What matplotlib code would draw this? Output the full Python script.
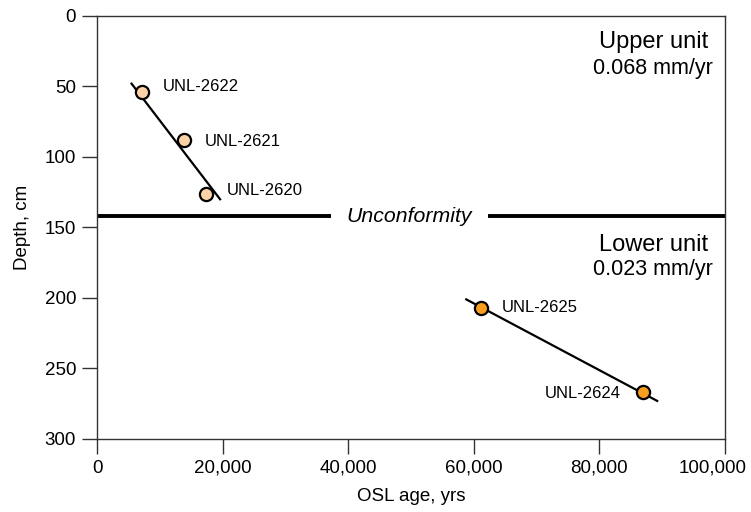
import matplotlib
matplotlib.use("Agg")
import matplotlib.pyplot as plt
import matplotlib.transforms as mtransforms

plt.rcParams['font.family'] = ['Liberation Sans', 'DejaVu Sans']

# --- donnees ---
upper_ids = ["UNL-2622", "UNL-2621", "UNL-2620"]
upper_age = [7100, 13900, 17300]
upper_depth = [54, 88, 126]

lower_ids = ["UNL-2625", "UNL-2624"]
lower_age = [61100, 86900]
lower_depth = [207, 267]

# droites d'ajustement (extremites)
upper_fit_age = [5500, 19600]
upper_fit_depth = [48, 130]
lower_fit_age = [58800, 89200]
lower_fit_depth = [201, 273]

# discordance
unconf_depth = 142
unconf_left = [0, 37200]
unconf_right = [62300, 100000]

x_ticks = [0, 20000, 40000, 60000, 80000, 100000]
y_ticks = [0, 50, 100, 150, 200, 250, 300]

fig = plt.figure(figsize=(7.51, 5.12), dpi=100)
ax = fig.add_axes([0.1292, 0.1426, 0.8362, 0.8262])

# discordance
ax.plot(unconf_left, [unconf_depth] * 2, color='black', lw=2.8, solid_capstyle='butt')
ax.plot(unconf_right, [unconf_depth] * 2, color='black', lw=2.8, solid_capstyle='butt')
ax.text(sum([unconf_left[1], unconf_right[0]]) / 2, unconf_depth, "Unconformity",
        style='italic', fontsize=15.3, ha='center', va='center')

# droites
ax.plot(upper_fit_age, upper_fit_depth, color='black', lw=1.6, zorder=3)
ax.plot(lower_fit_age, lower_fit_depth, color='black', lw=1.6, zorder=3)

# points
ax.plot(upper_age, upper_depth, 'o', ms=9.5, mfc='#FCD3A7', mec='black', mew=1.6, zorder=4)
ax.plot(lower_age, lower_depth, 'o', ms=9.5, mfc='#F89D1E', mec='black', mew=1.6, zorder=4)

# etiquettes (decalage en cm pour chaque point)
upper_dy = [-4, 1, -2]
for lab, a, d, dy in zip(upper_ids, upper_age, upper_depth, upper_dy):
    ax.text(a + 3300, d + dy, lab, fontsize=12, ha='left', va='center')
ax.text(lower_age[0] + 3300, lower_depth[0], lower_ids[0], fontsize=12, ha='left', va='center')
ax.text(lower_age[1] - 3500, lower_depth[1] + 1, lower_ids[1], fontsize=12, ha='right', va='center')

# unites
ax.text(97300, 18.5, "Upper unit", fontsize=17, ha='right', va='center')
ax.text(98000, 37.5, "0.068 mm/yr", fontsize=15.5, ha='right', va='center')
ax.text(97300, 162.5, "Lower unit", fontsize=17, ha='right', va='center')
ax.text(98000, 179.5, "0.023 mm/yr", fontsize=15.5, ha='right', va='center')

ax.set_xlim(0, 100000)
ax.set_ylim(300, 0)
ax.set_xticks(x_ticks)
ax.set_xticklabels([f"{t:,}" for t in x_ticks])
ax.set_yticks(y_ticks)
ax.tick_params(direction='out', length=11, width=1, labelsize=13.5, color='#333333', pad=4)
for s in ax.spines.values():
    s.set_linewidth(1.0)
    s.set_color('#333333')

# le dernier label decale vers la gauche pour rester dans l'image
last = ax.get_xticklabels()[-1]
last.set_transform(last.get_transform() + mtransforms.ScaledTranslation(-12 / 100, 0, fig.dpi_scale_trans))

ax.set_xlabel("OSL age, yrs", fontsize=13.5, labelpad=8)
ax.set_ylabel("Depth, cm", fontsize=13.5, labelpad=10)

fig.savefig("out.png", dpi=100)
